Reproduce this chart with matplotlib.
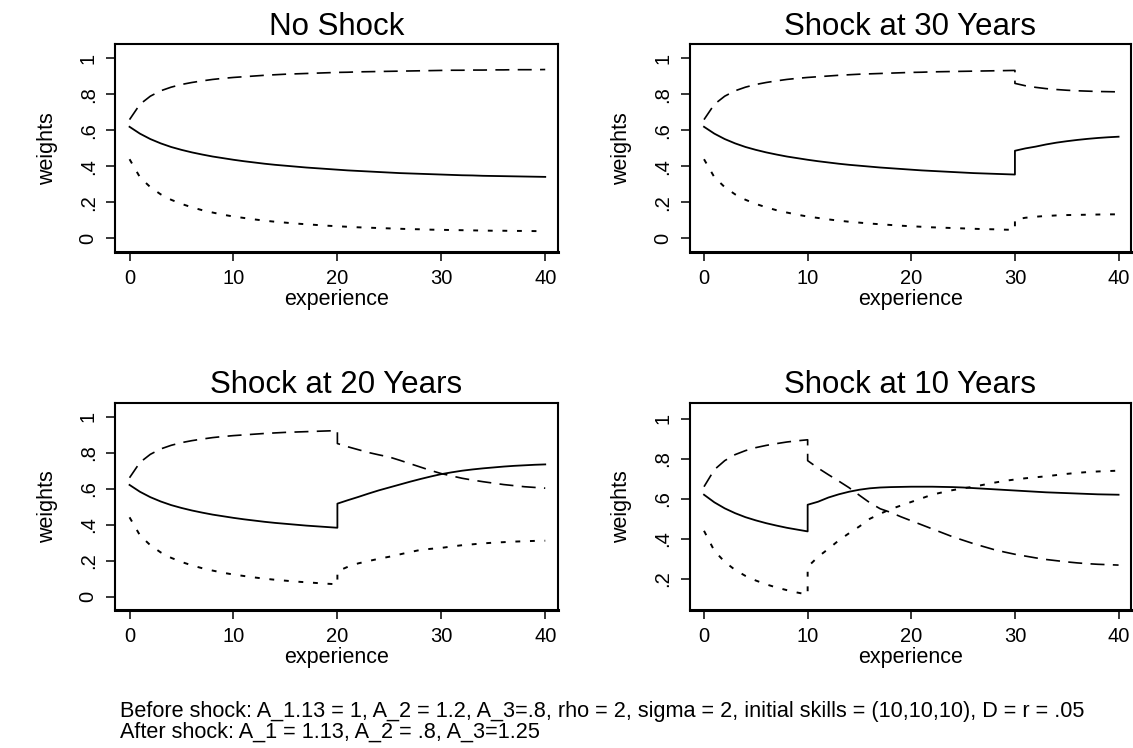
import numpy as np
import matplotlib
matplotlib.use("Agg")
import matplotlib.pyplot as plt

plt.rcParams['font.family'] = ['Liberation Sans', 'DejaVu Sans']

# ---------------- data ----------------
years = list(range(0, 41))

# no-shock paths (weights by experience year 0..40)
solid_base = [.620, .582, .552, .528, .508, .492, .478, .466, .455, .446,
              .437, .429, .422, .415, .409, .404, .399, .394, .390, .386,
              .382, .378, .375, .372, .369, .366, .363, .361, .359, .357,
              .355, .353, .351, .350, .348, .347, .346, .345, .344, .343, .342]
dashed_base = [.660, .745, .790, .820, .840, .855, .866, .875, .883, .889,
               .894, .898, .902, .906, .909, .912, .914, .916, .918, .920,
               .922, .923, .925, .926, .927, .928, .929, .930, .931, .932,
               .933, .934, .934, .935, .935, .936, .936, .937, .937, .937, .938]
dotted_base = [.440, .340, .285, .245, .215, .192, .173, .157, .144, .132,
               .122, .114, .106, .099, .093, .088, .083, .079, .075, .071,
               .068, .065, .062, .060, .058, .056, .054, .052, .051, .049,
               .048, .047, .046, .045, .044, .043, .043, .042, .042, .041, .041]

# post-shock paths (start at the shock year, run to 40)
shock30_solid = [.487, .500, .510, .522, .532, .540, .547, .553, .558, .562, .565]
shock30_dashed = [.861, .848, .839, .832, .827, .823, .820, .818, .816, .815, .814]
shock30_dotted = [.105, .115, .121, .125, .128, .130, .131, .132, .133, .134, .134]

shock20_solid = [.516, .535, .553, .572, .590, .606, .622, .638, .653, .667, .680,
                 .690, .699, .706, .712, .717, .722, .726, .729, .732, .734]
shock20_dashed = [.850, .832, .816, .800, .787, .775, .757, .738, .719, .700, .683,
                  .670, .657, .647, .638, .630, .622, .616, .610, .606, .602]
shock20_dotted = [.140, .165, .184, .197, .210, .221, .234, .247, .259, .265, .270,
                  .278, .285, .290, .295, .299, .302, .305, .307, .309, .310]

shock10_solid = [.570, .585, .606, .622, .635, .645, .652, .656, .658, .659, .660,
                 .660, .660, .659, .658, .656, .653, .650, .647, .644, .641,
                 .638, .635, .632, .630, .628, .626, .624, .622, .621, .620]
shock10_dashed = [.790, .753, .720, .688, .655, .617, .580, .550, .532, .510, .490,
                  .470, .450, .430, .410, .393, .376, .361, .346, .334, .323,
                  .314, .305, .297, .291, .285, .280, .276, .273, .271, .269]
shock10_dotted = [.260, .310, .350, .392, .428, .462, .500, .525, .548, .566, .584,
                  .602, .620, .632, .643, .652, .660, .670, .680, .689, .696,
                  .702, .707, .712, .718, .724, .729, .733, .736, .738, .740]

titles = ["No Shock", "Shock at 30 Years", "Shock at 20 Years", "Shock at 10 Years"]
shock_years = [None, 30, 20, 10]
post = {
    30: (shock30_solid, shock30_dashed, shock30_dotted),
    20: (shock20_solid, shock20_dashed, shock20_dotted),
    10: (shock10_solid, shock10_dashed, shock10_dotted),
}

yticks_full = [0, .2, .4, .6, .8, 1]
yticklabels_full = ["0", ".2", ".4", ".6", ".8", "1"]
yticks_short = [.2, .4, .6, .8, 1]
yticklabels_short = [".2", ".4", ".6", ".8", "1"]
xticks = [0, 10, 20, 30, 40]

footer1 = ("Before shock: A_1.13 = 1, A_2 = 1.2, A_3=.8, rho = 2, sigma = 2, "
           "initial skills = (10,10,10), D = r = .05")
footer2 = "After shock: A_1 = 1.13, A_2 = .8, A_3=1.25"

# ---------------- figure ----------------
W, H = 1133, 748
fig = plt.figure(figsize=(W / 100, H / 100), dpi=100)

def box(l, t, r, b):
    return [l / W, 1 - b / H, (r - l) / W, (b - t) / H]

rects = [box(115, 44.3, 557.7, 252), box(689.5, 44.3, 1131, 252),
         box(115, 402.5, 557.7, 610), box(689.5, 402.5, 1131, 610)]

styles = [dict(ls='-', lw=1.3),
          dict(ls=(0, (8.4, 5.0)), lw=1.2),
          dict(ls=(0, (2.5, 5.0)), lw=1.4)]

for i, (rect, title, s) in enumerate(zip(rects, titles, shock_years)):
    ax = fig.add_axes(rect)
    bases = (solid_base, dashed_base, dotted_base)
    for k in range(3):
        if s is None:
            x = years
            y = bases[k]
        else:
            x = years[:s + 1] + years[s:]
            y = bases[k][:s + 1] + post[s][k]
        ax.plot(x, y, color='black', **styles[k])
    ax.set_xlim(-1.4, 41.2)
    if i == 3:
        ax.set_ylim(0.045, 1.08)
        ax.set_yticks(yticks_short)
        ax.set_yticklabels(yticklabels_short)
    else:
        ax.set_ylim(-0.075, 1.078)
        ax.set_yticks(yticks_full)
        ax.set_yticklabels(yticklabels_full)
    ax.set_xticks(xticks)
    ax.set_xticklabels([str(v) for v in xticks])
    ax.tick_params(axis='both', direction='out', length=6.5, width=1.1,
                   labelsize=14.5, colors='black')
    ax.tick_params(axis='x', pad=6)
    ax.tick_params(axis='y', pad=6, labelrotation=90)
    for lab in ax.get_yticklabels():
        lab.set_va('center')
    for sp in ax.spines.values():
        sp.set_linewidth(1.5)
    ax.spines['bottom'].set_linewidth(2.2)
    ax.set_title(title, fontsize=22.5, pad=7)
    ax.set_xlabel("experience", fontsize=15.5, labelpad=0.5)
    ax.set_ylabel("weights", fontsize=15.5, labelpad=15)

fig.text(120 / W, 1 - 711 / H, footer1, fontsize=15.6, va='center', ha='left')
fig.text(120 / W, 1 - 732 / H, footer2, fontsize=15.6, va='center', ha='left')

fig.savefig("out.png", dpi=100, facecolor='white')
